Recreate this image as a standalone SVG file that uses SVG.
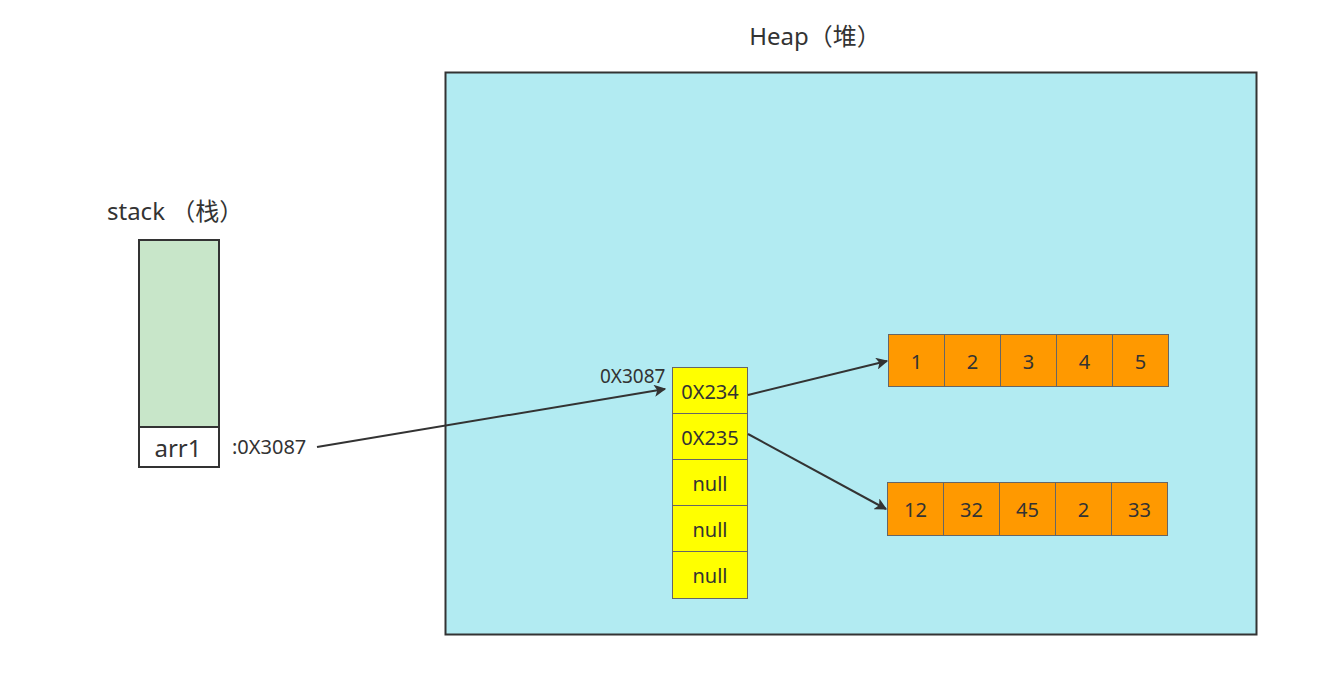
<svg xmlns="http://www.w3.org/2000/svg" width="1330" height="674" viewBox="0 0 1330 674">
<style>
text{font-family:"Noto Sans","Noto Sans CJK SC",sans-serif;fill:#333;}
.lbl{font-size:24px;}
.cell{font-size:20px;text-anchor:middle;dominant-baseline:central;}
.y{fill:#ffff00;stroke:#666;stroke-width:1;}
.o{fill:#ff9900;stroke:#666;stroke-width:1;}
.conn{stroke:#333;stroke-width:2;fill:none;marker-end:url(#ah);}
</style>
<defs>
<marker id="ah" viewBox="0 0 10 10" refX="9" refY="5" markerWidth="12" markerHeight="12" markerUnits="userSpaceOnUse" orient="auto">
<path d="M0,0 L10,5 L0,10 L2.5,5 Z" fill="#333"/>
</marker>
</defs>
<rect width="1330" height="674" fill="#fff"/>
<g id="heap">
<rect x="445.5" y="72.5" width="811" height="562" fill="#b2ebf2" stroke="#333" stroke-width="2"/>
<text class="lbl" x="815" y="45" text-anchor="middle">Heap（堆）</text>
</g>
<g id="stack">
<text class="lbl" x="107" y="220">stack （栈）</text>
<rect x="139" y="240" width="80" height="187" fill="#c8e6c9" stroke="#333" stroke-width="2"/>
</g>
<g id="arr1">
<rect x="139" y="427" width="80" height="40" fill="#fff" stroke="#333" stroke-width="2"/>
<text class="cell" x="178" y="447" style="font-size:24px">arr1</text>
<text x="232" y="454" style="font-size:20px">:0X3087</text>
</g>
<g id="outer-array">
<text x="600" y="383" style="font-size:19px">0X3087</text>
<rect class="y" x="672.5" y="367.5" width="75" height="46"/>
<rect class="y" x="672.5" y="413.5" width="75" height="46"/>
<rect class="y" x="672.5" y="459.5" width="75" height="46"/>
<rect class="y" x="672.5" y="505.5" width="75" height="46"/>
<rect class="y" x="672.5" y="551.5" width="75" height="47"/>
<text class="cell" x="710" y="391">0X234</text>
<text class="cell" x="710" y="437">0X235</text>
<text class="cell" x="710" y="483">null</text>
<text class="cell" x="710" y="529">null</text>
<text class="cell" x="710" y="575">null</text>
</g>
<g id="array1">
<rect class="o" x="888.5" y="334.5" width="56" height="52"/>
<rect class="o" x="944.5" y="334.5" width="56" height="52"/>
<rect class="o" x="1000.5" y="334.5" width="56" height="52"/>
<rect class="o" x="1056.5" y="334.5" width="56" height="52"/>
<rect class="o" x="1112.5" y="334.5" width="56" height="52"/>
<text class="cell" x="916.5" y="361">1</text>
<text class="cell" x="972.5" y="361">2</text>
<text class="cell" x="1028.5" y="361">3</text>
<text class="cell" x="1084.5" y="361">4</text>
<text class="cell" x="1140.5" y="361">5</text>
</g>
<g id="array2">
<rect class="o" x="887.5" y="482.5" width="56" height="53"/>
<rect class="o" x="943.5" y="482.5" width="56" height="53"/>
<rect class="o" x="999.5" y="482.5" width="56" height="53"/>
<rect class="o" x="1055.5" y="482.5" width="56" height="53"/>
<rect class="o" x="1111.5" y="482.5" width="56" height="53"/>
<text class="cell" x="915.5" y="509">12</text>
<text class="cell" x="971.5" y="509">32</text>
<text class="cell" x="1027.5" y="509">45</text>
<text class="cell" x="1083.5" y="509">2</text>
<text class="cell" x="1139.5" y="509">33</text>
</g>
<g id="connectors">
<line class="conn" x1="317" y1="447" x2="665" y2="389"/>
<line class="conn" x1="748" y1="395" x2="887" y2="361"/>
<line class="conn" x1="748" y1="434" x2="886" y2="509"/>
</g>
</svg>
